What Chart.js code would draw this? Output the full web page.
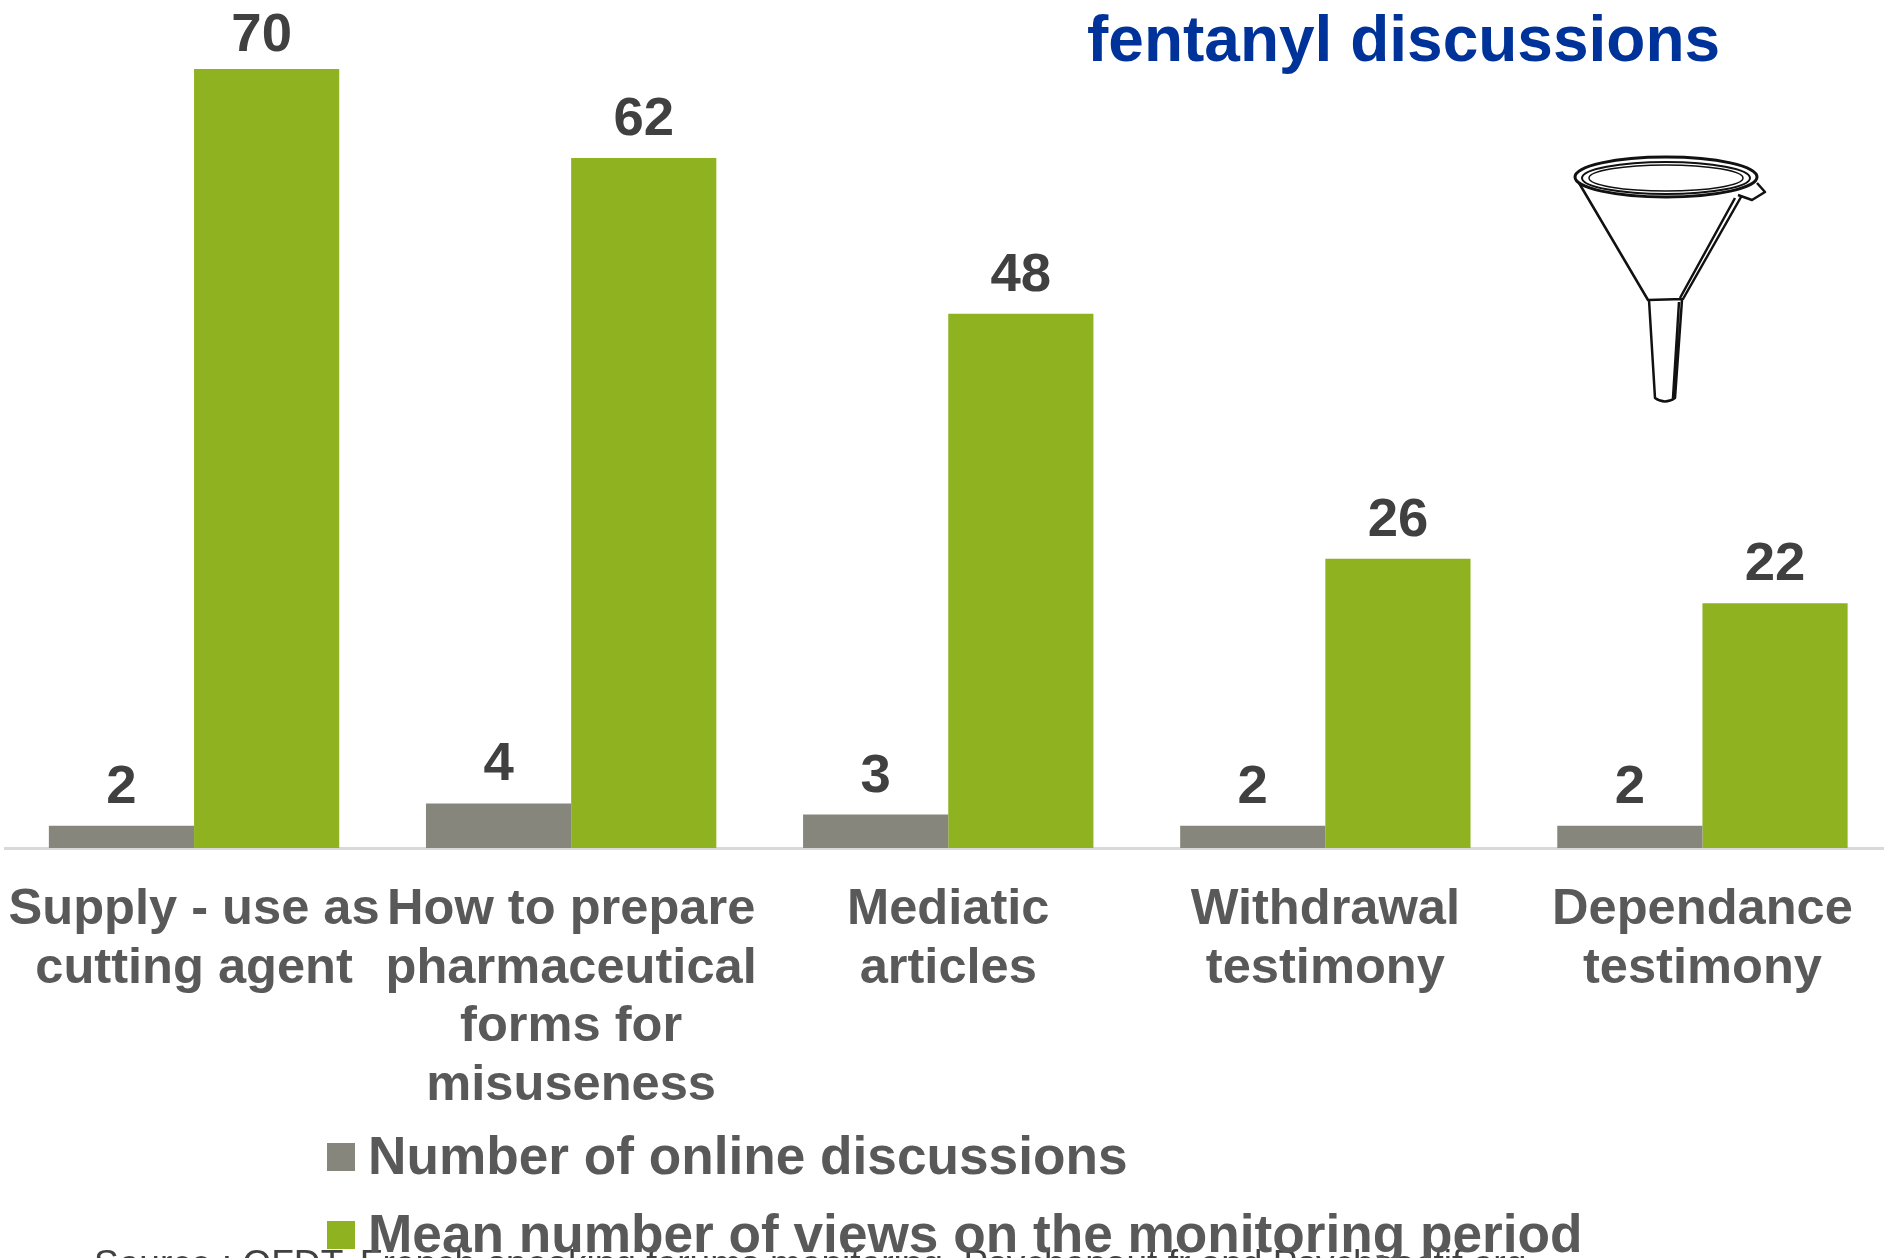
<!DOCTYPE html>
<html>
<head>
<meta charset="utf-8">
<title>Fentanyl discussions</title>
<script src="https://cdn.jsdelivr.net/npm/chart.js@4/dist/chart.umd.min.js"></script>
<style>
    html, body { margin: 0; padding: 0; background: #fff; overflow: hidden; width: 1884px; height: 1258px; }
    canvas { display: block; }
</style>
</head>
<body>
<canvas id="chart" width="1891" height="1258"></canvas>
<script>
const categories = [
    ['Supply - use as', 'cutting agent'],
    ['How to prepare', 'pharmaceutical', 'forms for', 'misuseness'],
    ['Mediatic', 'articles'],
    ['Withdrawal', 'testimony'],
    ['Dependance', 'testimony']
];
const discussions = [2, 4, 3, 2, 2];
const meanViews = [70, 62, 48, 26, 22];

const seriesNames = ['Number of online discussions', 'Mean number of views on the monitoring period'];
const titleText = 'fentanyl discussions';
const sourceText = 'Source : OFDT, French-speaking forums monitoring, Psychonaut.fr and Psychoactif.org';

const FONT = '"Liberation Sans", Arial, sans-serif';

// values above the bars
const valueLabels = {
    id: 'valueLabels',
    afterDatasetsDraw(chart) {
        const ctx = chart.ctx;
        ctx.save();
        ctx.font = 'bold 54.5px ' + FONT;
        ctx.fillStyle = '#404040';
        ctx.textAlign = 'center';
        ctx.textBaseline = 'alphabetic';
        chart.data.datasets.forEach((ds, i) => {
            chart.getDatasetMeta(i).data.forEach((bar, j) => {
                // the tallest label gets pushed back in at the top edge
                const y = bar.y - 23;
                const squeezed = y < 51;
                ctx.fillText(ds.data[j], squeezed ? bar.x - 5 : bar.x, squeezed ? 51 : y);
            });
        });
        ctx.restore();
    }
};

// stacked legend, left aligned, the built in one can't do this spacing
const stackedLegend = {
    id: 'stackedLegend',
    afterDraw(chart) {
        const ctx = chart.ctx;
        ctx.save();
        ctx.textAlign = 'left';
        ctx.textBaseline = 'alphabetic';
        ctx.fillStyle = '#404040';
        ctx.font = '37.1px ' + FONT;
        ctx.fillText(sourceText, 94, 1276);
        ctx.font = 'bold 53.2px ' + FONT;
        chart.data.datasets.forEach((ds, i) => {
            const y = 1143 + i * 78;
            ctx.fillStyle = ds.backgroundColor;
            ctx.fillRect(327, y, 28, 28);
            ctx.fillStyle = '#595959';
            ctx.fillText(ds.label, 368, y + 31);
        });
        ctx.restore();
    }
};

const titleAndFunnel = {
    id: 'titleAndFunnel',
    afterDraw(chart) {
        const ctx = chart.ctx;
        ctx.save();
        ctx.font = 'bold 64px ' + FONT;
        ctx.fillStyle = '#003399';
        ctx.textAlign = 'left';
        ctx.fillText(titleText, 1087, 61);

        // funnel icon
        ctx.strokeStyle = '#111';
        ctx.lineWidth = 3;
        ctx.lineJoin = 'round';
        ctx.beginPath();
        ctx.ellipse(1666, 177, 91, 20, 0, 0, Math.PI * 2);
        ctx.stroke();
        ctx.lineWidth = 2;
        ctx.beginPath();
        ctx.ellipse(1666, 178, 84, 16, 0, 0, Math.PI * 2);
        ctx.stroke();
        ctx.lineWidth = 1.5;
        ctx.beginPath();
        ctx.ellipse(1666, 178, 77, 13, 0, 0, Math.PI * 2);
        ctx.stroke();
        ctx.lineWidth = 2.5;
        ctx.beginPath();
        ctx.moveTo(1579, 183);
        ctx.lineTo(1648, 300);
        ctx.lineTo(1683, 299);
        ctx.lineTo(1741, 197);
        ctx.moveTo(1735, 198);
        ctx.lineTo(1680, 298);
        ctx.moveTo(1649, 300);
        ctx.lineTo(1655, 398);
        ctx.quadraticCurveTo(1665, 405, 1675, 398);
        ctx.lineTo(1682, 300);
        ctx.moveTo(1679, 302);
        ctx.lineTo(1673, 398);
        ctx.moveTo(1757, 183);
        ctx.lineTo(1765, 192);
        ctx.lineTo(1752, 200);
        ctx.lineTo(1738, 195);
        ctx.stroke();
        ctx.restore();
    }
};

new Chart(document.getElementById('chart').getContext('2d'), {
    type: 'bar',
    data: {
        labels: categories,
        datasets: [
            { label: seriesNames[0], data: discussions, backgroundColor: '#87867c' },
            { label: seriesNames[1], data: meanViews, backgroundColor: '#8fb320' }
        ]
    },
    options: {
        responsive: false,
        animation: false,
        layout: { padding: { left: 5.5, right: 0, top: 0, bottom: 0 } },
        datasets: { bar: { categoryPercentage: 0.77, barPercentage: 1 } },
        scales: {
            x: {
                grid: { display: false, drawTicks: false },
                border: { color: '#d9d9d9', width: 3 },
                ticks: {
                    autoSkip: false,
                    maxRotation: 0,
                    minRotation: 0,
                    padding: 33,
                    color: '#595959',
                    font: { family: FONT, size: 50.6, weight: 'bold', lineHeight: 1.155 }
                },
                afterFit(scale) {
                    scale.height = 410;
                    scale.paddingLeft = 0;
                    scale.paddingRight = 0;
                }
            },
            y: { display: false, min: 0, max: 76.2 }
        },
        plugins: {
            legend: { display: false },
            tooltip: { enabled: false }
        }
    },
    plugins: [valueLabels, stackedLegend, titleAndFunnel]
});
</script>
</body>
</html>
